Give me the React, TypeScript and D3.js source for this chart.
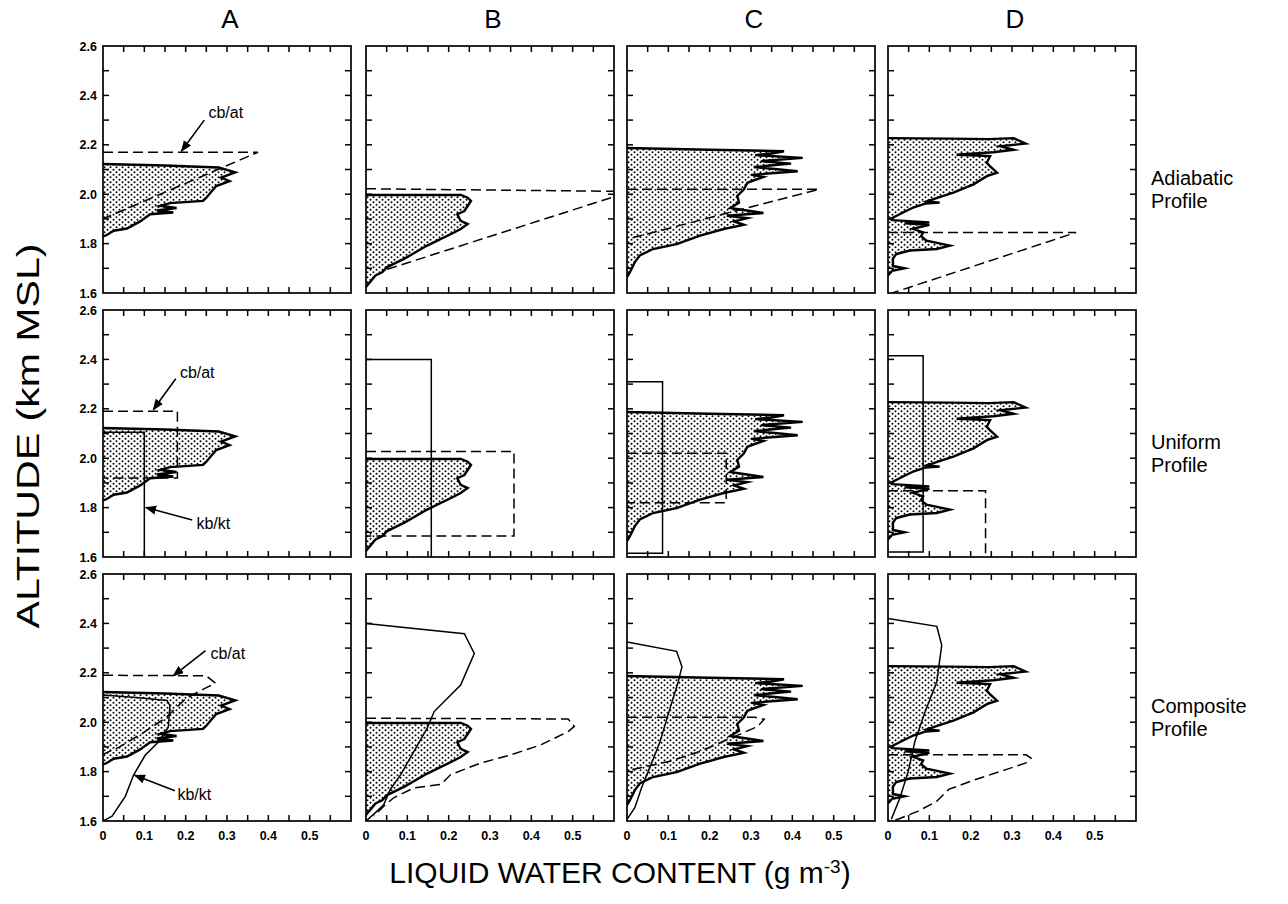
import React from "react";
import * as d3 from "d3";

type Pt = [number, number]; // [liquid water content (g m-3), altitude (km MSL)]

// ---- labels ----
const panelTitles = ["A", "B", "C", "D"];
const rowTitles = [
  ["Adiabatic", "Profile"],
  ["Uniform", "Profile"],
  ["Composite", "Profile"],
];
const xTickLabels = [0, 0.1, 0.2, 0.3, 0.4, 0.5];
const yTickLabels = [1.6, 1.8, 2.0, 2.2, 2.4, 2.6];

// ---- observed LWC profiles (right edge, bottom to top) ----
const observedA: Pt[] = [
  [0, 1.83], [0.006, 1.832], [0.014, 1.84], [0.026, 1.852], [0.058, 1.861],
  [0.09, 1.89], [0.114, 1.919], [0.17, 1.926], [0.13, 1.934], [0.178, 1.944],
  [0.138, 1.953], [0.162, 1.964], [0.242, 1.973], [0.25, 1.986], [0.262, 2.01],
  [0.274, 2.033], [0.306, 2.053], [0.286, 2.067], [0.32, 2.088], [0.28, 2.108],
  [0.15, 2.116], [0, 2.122],
];
const observedB: Pt[] = [
  [0, 1.624], [0.006, 1.637], [0.023, 1.671], [0.039, 1.684], [0.051, 1.705],
  [0.092, 1.738], [0.148, 1.792], [0.213, 1.845], [0.229, 1.859], [0.246, 1.879],
  [0.229, 1.892], [0.221, 1.919], [0.238, 1.932], [0.254, 1.973], [0.246, 1.986],
  [0.23, 1.997], [0, 1.997],
];
const observedC: Pt[] = [
  [0, 1.664], [0.007, 1.684], [0.019, 1.725], [0.031, 1.752], [0.063, 1.778],
  [0.12, 1.798], [0.177, 1.832], [0.234, 1.859], [0.283, 1.876], [0.259, 1.89],
  [0.291, 1.903], [0.242, 1.913], [0.33, 1.924], [0.25, 1.944], [0.271, 1.966],
  [0.267, 1.993], [0.283, 2.02], [0.291, 2.046], [0.33, 2.07], [0.3, 2.078],
  [0.413, 2.093], [0.307, 2.11], [0.397, 2.124], [0.324, 2.134], [0.425, 2.147],
  [0.31, 2.158], [0.35, 2.165], [0.38, 2.174], [0.2, 2.18], [0, 2.187],
];
const observedD: Pt[] = [
  [0, 1.671], [0.01, 1.69], [0.04, 1.7], [0.012, 1.71], [0.012, 1.74],
  [0.02, 1.758], [0.053, 1.772], [0.118, 1.778], [0.15, 1.792], [0.093, 1.812],
  [0.08, 1.83], [0.085, 1.845], [0.06, 1.86], [0.1, 1.876], [0.04, 1.882],
  [0.1, 1.886], [0.01, 1.895], [0.006, 1.9], [0.028, 1.919], [0.061, 1.946],
  [0.09, 1.962], [0.125, 1.966], [0.095, 1.972], [0.158, 2.006], [0.207, 2.04],
  [0.239, 2.073], [0.264, 2.087], [0.247, 2.113], [0.239, 2.127], [0.247, 2.154],
  [0.166, 2.16], [0.255, 2.17], [0.304, 2.18], [0.272, 2.194], [0.333, 2.205],
  [0.304, 2.227], [0.243, 2.223], [0.15, 2.225], [0, 2.227],
];

// ---- adiabatic profile (cb/at) ----
const adiabaticA: Pt[] = [[0, 2.17], [0.375, 2.17], [0, 1.9]];
const adiabaticB: Pt[] = [[0, 2.022], [0.64, 2.011], [0.04, 1.69]];
const adiabaticC: Pt[] = [[0, 2.02], [0.465, 2.02], [0, 1.818]];
const adiabaticD: Pt[] = [[0, 1.845], [0.455, 1.845], [0.01, 1.6]];

// ---- uniform profiles: cb/at (dashed) and kb/kt (solid) ----
const uniformCbA: Pt[] = [[0, 2.19], [0.18, 2.19], [0.18, 1.92], [0, 1.92]];
const uniformKbA: Pt[] = [[0, 2.105], [0.1, 2.105], [0.1, 1.6]];
const uniformCbB: Pt[] = [[0, 2.027], [0.358, 2.027], [0.358, 1.685], [0, 1.685]];
const uniformKbB: Pt[] = [[0, 2.4], [0.158, 2.4], [0.158, 1.6]];
const uniformCbC: Pt[] = [[0, 2.02], [0.24, 2.02], [0.24, 1.82], [0, 1.82]];
const uniformKbC: Pt[] = [[0, 2.31], [0.086, 2.31], [0.086, 1.615], [0, 1.615]];
const uniformCbD: Pt[] = [[0, 1.868], [0.236, 1.868], [0.236, 1.6]];
const uniformKbD: Pt[] = [[0, 2.415], [0.085, 2.415], [0.085, 1.62], [0, 1.62]];

// ---- composite profiles: cb/at (dashed) and kb/kt (solid) ----
const compositeCbA: Pt[] = [
  [0, 2.19], [0.25, 2.188], [0.272, 2.158], [0.25, 2.14], [0.2, 2.095],
  [0.15, 2.015], [0.094, 1.954], [0.04, 1.9], [0, 1.87],
];
const compositeKbA: Pt[] = [
  [0, 1.6], [0.022, 1.62], [0.054, 1.7], [0.074, 1.786], [0.102, 1.866],
  [0.134, 1.92], [0.158, 1.98], [0.162, 2.067], [0.155, 2.088], [0.08, 2.1], [0, 2.11],
];
const compositeCbB: Pt[] = [
  [0, 2.016], [0.489, 2.013], [0.504, 1.983], [0.489, 1.962], [0.424, 1.909],
  [0.351, 1.868], [0.278, 1.835], [0.205, 1.788], [0.181, 1.748], [0.116, 1.734],
  [0.067, 1.694], [0.043, 1.66], [0.019, 1.62],
];
const compositeKbB: Pt[] = [
  [0, 2.4], [0.238, 2.358], [0.262, 2.278], [0.229, 2.15], [0.165, 2.043],
  [0.148, 1.976], [0.116, 1.882], [0.084, 1.788], [0.059, 1.728], [0.043, 1.667],
  [0.023, 1.634], [0, 1.6],
];
const compositeCbC: Pt[] = [
  [0, 2.02], [0.31, 2.02], [0.332, 2.012], [0.32, 1.99], [0.307, 1.976],
  [0.242, 1.929], [0.177, 1.882], [0.104, 1.842], [0.031, 1.815], [0, 1.804],
];
const compositeKbC: Pt[] = [
  [0, 2.325], [0.12, 2.287], [0.133, 2.224], [0.124, 2.164], [0.104, 2.056],
  [0.08, 1.922], [0.055, 1.815], [0.035, 1.734], [0.019, 1.654], [0, 1.607],
];
const compositeCbD: Pt[] = [
  [0, 1.868], [0.334, 1.868], [0.346, 1.855], [0.334, 1.835], [0.285, 1.808],
  [0.212, 1.768], [0.147, 1.728], [0.118, 1.68], [0.073, 1.64], [0.024, 1.607], [0, 1.6],
];
const compositeKbD: Pt[] = [
  [0, 2.42], [0.118, 2.388], [0.13, 2.311], [0.118, 2.164], [0.09, 2.043],
  [0.065, 1.922], [0.049, 1.801], [0.029, 1.694], [0.008, 1.607],
];

// ---- annotations in column A: [label, text anchor, arrow start, arrow tip] ----
type Note = { row: number; label: string; text: Pt; from: Pt; to: Pt };
const notes: Note[] = [
  { row: 0, label: "cb/at", text: [0.255, 2.31], from: [0.245, 2.3], to: [0.19, 2.175] },
  { row: 1, label: "cb/at", text: [0.186, 2.325], from: [0.176, 2.322], to: [0.122, 2.197] },
  { row: 1, label: "kb/kt", text: [0.226, 1.713], from: [0.216, 1.75], to: [0.104, 1.8] },
  { row: 2, label: "cb/at", text: [0.26, 2.257], from: [0.248, 2.29], to: [0.17, 2.188] },
  { row: 2, label: "kb/kt", text: [0.18, 1.685], from: [0.174, 1.722], to: [0.077, 1.785] },
];

// ---- layout ----
const W = 1288;
const H = 904;
const colLeft = [103, 366, 627, 888];
const rowTop = [46, 310, 574];
const PW = 248;
const PH = 247;
const TICK = 6;
const FONT = "'Liberation Sans', Arial, Helvetica, sans-serif";

const observed = [observedA, observedB, observedC, observedD];
const dashedByRow = [
  [adiabaticA, adiabaticB, adiabaticC, adiabaticD],
  [uniformCbA, uniformCbB, uniformCbC, uniformCbD],
  [compositeCbA, compositeCbB, compositeCbC, compositeCbD],
];
const solidByRow: (Pt[] | null)[][] = [
  [null, null, null, null],
  [uniformKbA, uniformKbB, uniformKbC, uniformKbD],
  [compositeKbA, compositeKbB, compositeKbC, compositeKbD],
];

const x = d3.scaleLinear().domain([0, 0.6]).range([0, PW]);
const y = d3.scaleLinear().domain([1.6, 2.6]).range([PH, 0]);
const line = d3.line<Pt>().x((d) => x(d[0])).y((d) => y(d[1]));

function Panel({ row, col }: { row: number; col: number }) {
  const obs = observed[col];
  const fillPts: Pt[] = [[0, obs[0][1]], ...obs, [0, obs[obs.length - 1][1]]];
  const dashed = dashedByRow[row][col];
  const solid = solidByRow[row][col];
  const clipId = `clip-${row}-${col}`;
  const xt = x.ticks(12).filter((t) => t > 0.001 && t < 0.599);
  const yt = y.ticks(10).filter((t) => t > 1.601 && t < 2.599);
  return (
    <g transform={`translate(${colLeft[col]},${rowTop[row]})`}>
      <defs>
        <clipPath id={clipId}>
          <rect x={0} y={0} width={PW} height={PH} />
        </clipPath>
      </defs>
      <g clipPath={`url(#${clipId})`}>
        <path d={line(fillPts) + "Z"} fill="url(#stipple)" stroke="none" />
        <path d={line(obs) ?? ""} fill="none" stroke="#000" strokeWidth={2.4} strokeLinejoin="miter" strokeMiterlimit={6} />
        {solid && <path d={line(solid) ?? ""} fill="none" stroke="#000" strokeWidth={1.5} />}
        <path d={line(dashed) ?? ""} fill="none" stroke="#000" strokeWidth={1.5} strokeDasharray="10,5" />
      </g>
      {/* inward ticks on all four sides */}
      {xt.map((t) => (
        <g key={"x" + t}>
          <line x1={x(t)} x2={x(t)} y1={PH} y2={PH - TICK} stroke="#000" strokeWidth={1.5} />
          <line x1={x(t)} x2={x(t)} y1={0} y2={TICK} stroke="#000" strokeWidth={1.5} />
        </g>
      ))}
      {yt.map((t) => (
        <g key={"y" + t}>
          <line x1={0} x2={TICK} y1={y(t)} y2={y(t)} stroke="#000" strokeWidth={1.5} />
          <line x1={PW} x2={PW - TICK} y1={y(t)} y2={y(t)} stroke="#000" strokeWidth={1.5} />
        </g>
      ))}
      <rect x={0} y={0} width={PW} height={PH} fill="none" stroke="#000" strokeWidth={1.7} />
      {col === 0 &&
        yTickLabels.map((v) => (
          <text key={"yl" + v} x={-6} y={y(v) + 4.5} textAnchor="end" fontSize={12.5} fontWeight="bold" fontFamily={FONT}>
            {v.toFixed(1)}
          </text>
        ))}
      {row === 2 &&
        xTickLabels.map((v) => (
          <text key={"xl" + v} x={x(v)} y={PH + 19} textAnchor="middle" fontSize={12.5} fontWeight="bold" fontFamily={FONT}>
            {v === 0 ? "0" : v.toFixed(1)}
          </text>
        ))}
      {col === 0 &&
        notes
          .filter((n) => n.row === row)
          .map((n, i) => (
            <g key={"n" + i}>
              <line
                x1={x(n.from[0])}
                y1={y(n.from[1])}
                x2={x(n.to[0])}
                y2={y(n.to[1])}
                stroke="#000"
                strokeWidth={1.6}
                markerEnd="url(#arrowhead)"
              />
              <text x={x(n.text[0])} y={y(n.text[1])} fontSize={16} fontFamily={FONT}>
                {n.label}
              </text>
            </g>
          ))}
    </g>
  );
}

export default function App() {
  const rows = [0, 1, 2];
  const cols = [0, 1, 2, 3];
  return (
    <svg
      width={W}
      height={H}
      viewBox={`0 0 ${W} ${H}`}
      style={{ position: "absolute", left: 0, top: 0, background: "#fff" }}
    >
      <defs>
        <pattern id="stipple" width={6} height={5} patternUnits="userSpaceOnUse">
          <circle cx={1.5} cy={1.25} r={1.0} fill="#000" />
          <circle cx={4.5} cy={3.75} r={1.0} fill="#000" />
        </pattern>
        <marker id="arrowhead" viewBox="0 0 10 10" refX={9} refY={5} markerWidth={7} markerHeight={7} orient="auto">
          <path d="M0,1 L10,5 L0,9 Z" fill="#000" />
        </marker>
      </defs>
      <rect x={0} y={0} width={W} height={H} fill="#fff" />
      {panelTitles.map((t, i) => (
        <text key={t} x={colLeft[i] + PW / 2 + 3} y={28} textAnchor="middle" fontSize={26} fontFamily={FONT}>
          {t}
        </text>
      ))}
      {rows.map((r) => cols.map((c) => <Panel key={`${r}-${c}`} row={r} col={c} />))}
      {rowTitles.map((lines, i) => (
        <text key={i} x={1151} y={rowTop[i] + 139} fontSize={20} fontFamily={FONT}>
          <tspan x={1151}>{lines[0]}</tspan>
          <tspan x={1151} dy={23}>{lines[1]}</tspan>
        </text>
      ))}
      <text
        transform="translate(39,436) rotate(-90)"
        textAnchor="middle"
        fontSize={31}
        fontFamily={FONT}
        textLength={385}
        lengthAdjust="spacingAndGlyphs"
      >
        ALTITUDE (km MSL)
      </text>
      <text x={620} y={883} textAnchor="middle" fontSize={30} fontFamily={FONT}>
        LIQUID WATER CONTENT (g m
        <tspan fontSize={19} dy={-10}>-3</tspan>
        <tspan dy={10}>)</tspan>
      </text>
    </svg>
  );
}
